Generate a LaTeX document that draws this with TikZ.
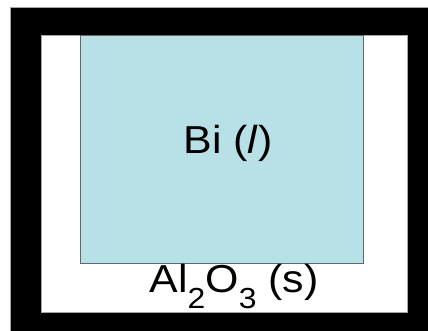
\documentclass[tikz,border=0pt]{standalone}
\usepackage{fontspec}
\setmainfont{Liberation Sans}
\definecolor{liq}{HTML}{B7E1E7}
\newcommand{\lowsub}[1]{\raisebox{-16pt}{\fontsize{29}{29}\selectfont #1}}
\newcommand{\wide}[1]{\scalebox{1.1}[1]{#1}}
\begin{document}
\begin{tikzpicture}[x=1pt,y=1pt,
  frame/.style={fill=black,draw=gray!70,line width=0.8pt},
  crucible/.style={fill=white,draw=gray!70,line width=0.8pt},
  melt/.style={fill=liq,draw=black!60,line width=0.8pt},
  lbl/.style={inner sep=0pt,anchor=base,font=\fontsize{39}{39}\selectfont}]
\useasboundingbox (0,0) rectangle (428,330);
\fill[white] (0,0) rectangle (428,330);
\path[frame] (10,-2) rectangle (430,323);
\path[crucible] (41.5,18) rectangle (407,295);
\node[melt,minimum width=283pt,minimum height=228pt,anchor=north west,inner sep=0pt] (bi) at (80,295) {};
\node[lbl] (bilbl) at (228,177) {\wide{Bi (\textit{l})}};
\node[lbl] (al) at (234,38) {\wide{Al\lowsub{2}O\lowsub{3} (s)}};
\end{tikzpicture}
\end{document}
